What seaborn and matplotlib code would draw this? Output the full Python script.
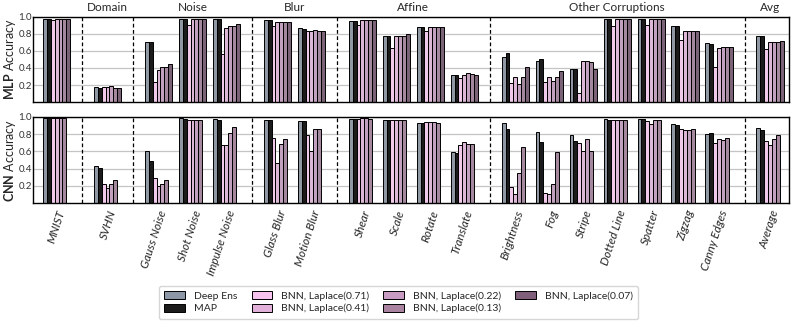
import numpy as np
import pandas as pd
import matplotlib
matplotlib.use("Agg")
import matplotlib.pyplot as plt
from matplotlib.patches import Patch
import seaborn as sns

# categories and the group each block of categories belongs to
categories = ["MNIST", "SVHN", "Gauss Noise", "Shot Noise", "Impulse Noise",
              "Glass Blur", "Motion Blur", "Shear", "Scale", "Rotate", "Translate",
              "Brightness", "Fog", "Stripe", "Dotted Line", "Spatter", "Zigzag",
              "Canny Edges", "Average"]
group_names = ["", "Domain", "Noise", "Blur", "Affine", "Other Corruptions", "Avg"]
group_sizes = [1, 1, 3, 2, 4, 7, 1]

series = ["Deep Ens", "MAP", "BNN, Laplace(0.71)", "BNN, Laplace(0.41)",
          "BNN, Laplace(0.22)", "BNN, Laplace(0.13)", "BNN, Laplace(0.07)"]
colors = ["#8d97a6", "#1b1b1b", "#f7c3ef", "#e2b1da", "#c79bc2", "#a9839f", "#7f5f79"]

# MLP accuracy
mlp_deep_ens = [0.98, 0.18, 0.71, 0.98, 0.97, 0.96, 0.87, 0.95, 0.78, 0.88, 0.32,
                0.53, 0.48, 0.39, 0.98, 0.98, 0.89, 0.69, 0.77]
mlp_map = [0.98, 0.17, 0.70, 0.98, 0.97, 0.96, 0.86, 0.95, 0.78, 0.88, 0.32,
           0.58, 0.51, 0.39, 0.98, 0.98, 0.89, 0.68, 0.77]
mlp_lap071 = [0.96, 0.18, 0.23, 0.90, 0.57, 0.89, 0.83, 0.91, 0.63, 0.84, 0.28,
              0.22, 0.23, 0.11, 0.89, 0.91, 0.73, 0.41, 0.62]
mlp_lap041 = [0.98, 0.18, 0.38, 0.97, 0.87, 0.94, 0.84, 0.96, 0.77, 0.88, 0.32,
              0.30, 0.29, 0.48, 0.97, 0.97, 0.83, 0.64, 0.71]
mlp_lap022 = [0.98, 0.19, 0.41, 0.97, 0.89, 0.94, 0.85, 0.96, 0.78, 0.88, 0.34,
              0.21, 0.25, 0.48, 0.97, 0.97, 0.83, 0.65, 0.71]
mlp_lap013 = [0.98, 0.17, 0.41, 0.97, 0.89, 0.94, 0.84, 0.96, 0.78, 0.88, 0.33,
              0.29, 0.30, 0.47, 0.97, 0.97, 0.83, 0.65, 0.71]
mlp_lap007 = [0.98, 0.17, 0.45, 0.97, 0.92, 0.94, 0.84, 0.96, 0.80, 0.88, 0.32,
              0.41, 0.36, 0.39, 0.97, 0.97, 0.83, 0.65, 0.72]

# CNN accuracy (no Laplace(0.07) run)
cnn_deep_ens = [0.99, 0.43, 0.60, 0.99, 0.98, 0.97, 0.95, 0.98, 0.96, 0.93, 0.59,
                0.93, 0.83, 0.79, 0.98, 0.98, 0.92, 0.80, 0.87]
cnn_map = [0.99, 0.41, 0.49, 0.98, 0.97, 0.97, 0.95, 0.98, 0.96, 0.93, 0.58,
           0.86, 0.71, 0.72, 0.97, 0.98, 0.91, 0.81, 0.85]
cnn_lap071 = [0.99, 0.22, 0.29, 0.96, 0.67, 0.76, 0.79, 0.98, 0.96, 0.94, 0.68,
              0.19, 0.12, 0.70, 0.97, 0.95, 0.86, 0.70, 0.72]
cnn_lap041 = [0.99, 0.17, 0.20, 0.96, 0.68, 0.47, 0.60, 0.99, 0.96, 0.94, 0.71,
              0.11, 0.11, 0.61, 0.97, 0.92, 0.85, 0.74, 0.68]
cnn_lap022 = [0.99, 0.22, 0.22, 0.97, 0.81, 0.69, 0.86, 0.99, 0.96, 0.94, 0.69,
              0.35, 0.22, 0.75, 0.97, 0.96, 0.85, 0.73, 0.74]
cnn_lap013 = [0.99, 0.27, 0.27, 0.97, 0.88, 0.74, 0.86, 0.98, 0.96, 0.93, 0.69,
              0.65, 0.59, 0.60, 0.97, 0.97, 0.86, 0.76, 0.79]
cnn_lap007 = []

mlp_data = [mlp_deep_ens, mlp_map, mlp_lap071, mlp_lap041, mlp_lap022, mlp_lap013, mlp_lap007]
cnn_data = [cnn_deep_ens, cnn_map, cnn_lap071, cnn_lap041, cnn_lap022, cnn_lap013, cnn_lap007]

# x positions: unit step inside a group, extra half step between groups
positions, dividers, group_centers = [], [], []
start = 0.0
for n in group_sizes:
    pos = [start + i for i in range(n)]
    positions += pos
    group_centers.append(np.mean(pos))
    dividers.append(pos[-1] + 0.75)
    start = pos[-1] + 1.5
dividers = dividers[:-1]


def to_frame(data):
    rows = []
    for name, vals in zip(series, data):
        for cat, p, v in zip(categories, positions, vals):
            rows.append({"model": name, "category": cat, "pos": p, "acc": v})
    return pd.DataFrame(rows)


sns.set_theme(style="whitegrid")
plt.rcParams["font.family"] = ["Lato", "DejaVu Sans"]
plt.rcParams["mathtext.fontset"] = "custom"
plt.rcParams["mathtext.rm"] = "Lato"
plt.rcParams["mathtext.bf"] = "Lato:bold"

fig = plt.figure(figsize=(7.97, 3.25), dpi=100)
ax_top = fig.add_axes([0.042, 0.686, 0.948, 0.262])
ax_bot = fig.add_axes([0.042, 0.375, 0.948, 0.265])

for ax, data, label in [(ax_top, mlp_data, "MLP"), (ax_bot, cnn_data, "CNN")]:
    df = to_frame(data)
    sns.barplot(data=df, x="pos", y="acc", hue="model", hue_order=series,
                palette=colors, native_scale=True, width=0.8, dodge=True,
                errorbar=None, edgecolor="black", linewidth=0.7, legend=False, ax=ax)
    ax.set_xlim(-0.68, positions[-1] + 0.56)
    ax.set_ylim(0, 1.0)
    ax.set_yticks([0.2, 0.4, 0.6, 0.8, 1.0])
    ax.set_yticklabels(["0.2", "0.4", "0.6", "0.8", "1.0"], fontsize=7, color="#333333")
    ax.tick_params(axis="y", pad=1, length=0)
    ax.grid(axis="x", visible=False)
    ax.grid(axis="y", color="#c4c4c4", linewidth=0.9)
    for d in dividers:
        ax.axvline(d, color="black", linestyle=(0, (3, 2)), linewidth=0.9)
    for s in ax.spines.values():
        s.set_color("black")
        s.set_linewidth(1.0)
    ax.set_ylabel(r"$\mathbf{" + label + "}$ Accuracy", fontsize=9)
    ax.yaxis.label.set_va("center")
    ax.yaxis.set_label_coords(-0.031, 0.5)
    ax.set_xlabel("")
    ax.set_xticks(positions)

ax_top.set_xticklabels([])
ax_top.tick_params(axis="x", length=0)
ax_bot.set_xticklabels(categories, rotation=72, ha="right", va="top",
                       rotation_mode="anchor", fontsize=8.5, style="italic")
ax_bot.tick_params(axis="x", length=2, width=0.6, color="#555555", pad=2)

for name, c in zip(group_names, group_centers):
    if name:
        ax_top.text(c, 1.04, name, ha="center", va="bottom", fontsize=8.5,
                    transform=ax_top.get_xaxis_transform())

handles = [Patch(facecolor=c, edgecolor="black", linewidth=0.7, label=s)
           for s, c in zip(series, colors)]
fig.legend(handles=handles, loc="center", bbox_to_anchor=(0.5, 0.07), ncol=4,
           fontsize=7.5, frameon=True, edgecolor="#cccccc", handlelength=2.0,
           handleheight=0.8, columnspacing=1.4, labelspacing=0.3, borderpad=0.5)

fig.savefig("out.png", dpi=100)
